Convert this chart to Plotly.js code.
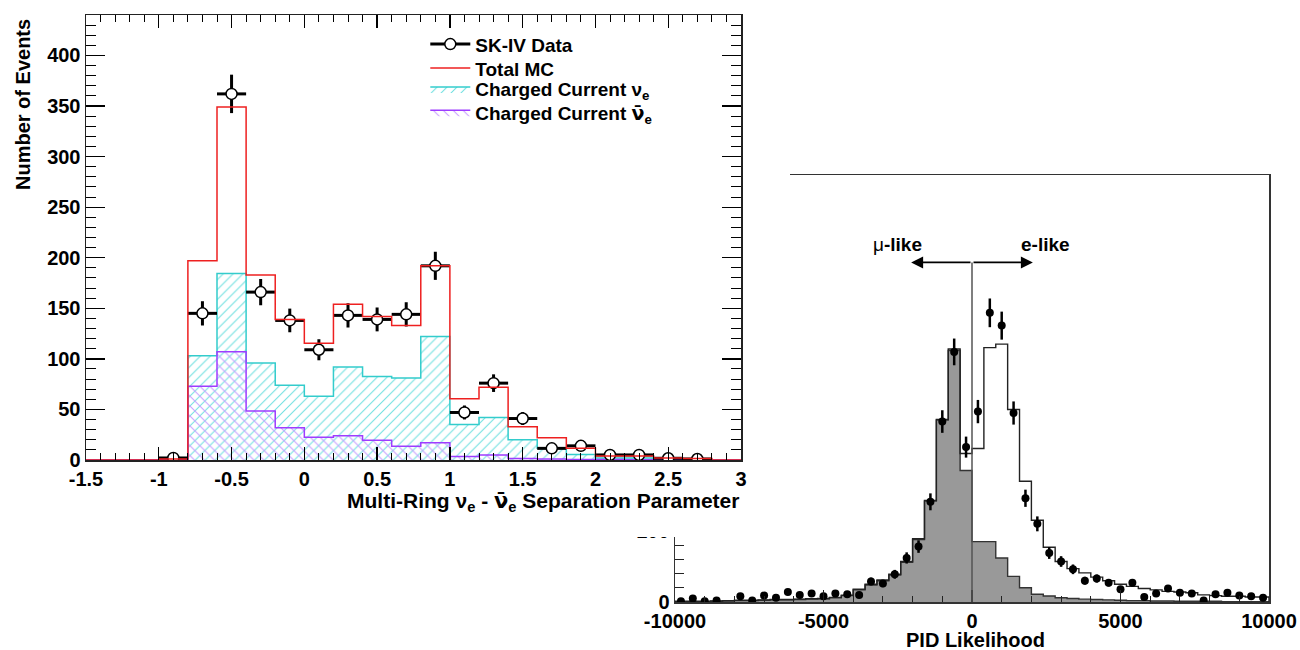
<!DOCTYPE html>
<html><head><meta charset="utf-8">
<script src="https://cdn.plot.ly/plotly-3.0.1.min.js"></script>
<style>
html,body{margin:0;padding:0;background:#fff;width:1300px;height:650px;overflow:hidden}
#pid{position:absolute;left:0;top:0;width:1300px;height:650px}
#sep{position:absolute;left:0;top:0;width:790px;height:537px;z-index:2;background:#fff}
</style></head><body>
<div id="pid"></div><div id="sep"></div>
<script>
// ---------------- Left chart data: Multi-Ring nu_e / nubar_e separation ----------------
const sepBinCenters = [-1.5,-1.3,-1.1,-0.9,-0.7,-0.5,-0.3,-0.1,0.1,0.3,0.5,0.7,0.9,1.1,1.3,1.5,1.7,1.9,2.1,2.3,2.5,2.7,2.9];
const sepTotalMC   = [0,0,0,1,197,349,183,139,115.5,154,142,133,192,60.5,72,33,22,11.5,4,4,2,1.5,0];
const sepCCNue     = [0,0,0,0.5,103,184.5,96,74,63,92,82.5,81,122,35,42,20,11.5,5.5,2,2,1,0.5,0];
const sepCCNuebar  = [0,0,0,0.2,73,107,48.5,32,22.5,24,19.5,13.5,17,3.5,5,1.5,1,0.5,0.5,0.3,0.2,0.1,0];
const sepDataX     = [-0.9,-0.7,-0.5,-0.3,-0.1,0.1,0.3,0.5,0.7,0.9,1.1,1.3,1.5,1.7,1.9,2.1,2.3,2.5,2.7];
const sepDataY     = [2,145,362,166,138,109,143,139,144,192,47,76,41,11.5,14,5,5,1.7,1];
const sepDataErr   = [1.4,12,19,13,11.7,10.4,12,11.8,12,13.9,6.9,8.7,6.4,3.4,3.7,2.2,2.2,1.3,1];
const sepTickVals  = [-1.5,-1,-0.5,0,0.5,1,1.5,2,2.5,3];
const sepTickText  = ['-1.5','-1','-0.5','0','0.5','1','1.5','2','2.5','3'];
const sepYTickVals = [0,50,100,150,200,250,300,350,400];
const sepYTickText = ['0','50','100','150','200','250','300','350','400'];

// ---------------- Right chart data: PID likelihood ----------------
const pidCenters = [-9800,-9400,-9000,-8600,-8200,-7800,-7400,-7000,-6600,-6200,-5800,-5400,-5000,-4600,-4200,-3800,-3400,-3000,-2600,-2200,-1800,-1400,-1000,-600,-200,
                    200,600,1000,1400,1800,2200,2600,3000,3400,3800,4200,4600,5000,5400,5800,6200,6600,7000,7400,7800,8200,8600,9000,9400,9800];
const pidMuMC    = [0.5,0.5,0.5,1,1.5,2,2,2.5,3,3,3.5,4,4.5,6,9,17,24,30,38,56,88,142,256,354,185,
                    85,85,62,36,20,11,8.5,6,5,4,3.5,3,2.5,2,2,1.5,1.5,1,1,1,1,0.5,0.5,0.5,0.5];
const pidTotalMC = [1,1,1,1.5,2,2.5,2.5,3,3.5,3.5,4,4.5,5,6.5,9.5,18,25,31,39,57,89,143,257,356,209,
                    216,358,363,271,170,115,77,57,47,41,35,30,25,22,19,17,15,14,13,10,9,8,8,7,7];
const pidData    = [1,5,1,2,null,8,2,9,6,14,10,12,8,12,11,10,29,26,39,62,78,141,254,352,218,
                    268,407,389,266,146,110,69,57,46,30,33,27,18,27,7,12,19,13,12,2,11,13,9,8,6];
const pidDataErr = [1,2.2,1,1.4,null,2.8,1.4,3,2.4,3.7,3.2,3.5,2.8,3.5,3.3,3.2,5.4,5.1,6.2,7.9,8.8,11.9,15.9,18.8,14.8,
                    16.4,20.2,19.7,16.3,12.1,10.5,8.3,7.5,6.8,5.5,5.7,5.2,4.2,5.2,2.6,3.5,4.4,3.6,3.5,1.4,3.3,3.6,3,2.8,2.4];
const pidTickVals = [-10000,-5000,0,5000,10000];
const pidTickText = ['-10000','-5000','0','5000','10000'];
const pidYTickVals = [0,100,200,300,400,500,600];
const pidYTickText = ['0','100','200','300','400','500','600'];

// ---------------- helpers ----------------
function stepXY(centers, vals){
  const w = centers[1]-centers[0], n = centers.length;
  const xs=[centers[0]-w/2], ys=[0];
  for(let i=0;i<n;i++){ xs.push(centers[i]-w/2); ys.push(vals[i]); }
  xs.push(centers[n-1]+w/2); ys.push(vals[n-1]);
  xs.push(centers[n-1]+w/2); ys.push(0);
  return {xs, ys};
}
const F = 'Liberation Sans, Arial, Helvetica, sans-serif';
const BF = (s)=>({family:F, size:s, weight:700, color:'#000'});
const NUBAR = '<span style="font-family:DejaVu Sans">ν\u0304</span>';

// ---------------- Right chart ----------------
const grayS = stepXY(pidCenters, pidMuMC);
const totS = stepXY(pidCenters, pidTotalMC);
const pidHalf = (pidCenters[1]-pidCenters[0])*0.35;
const pidTraces = [
  {x:grayS.xs, y:grayS.ys, type:'scatter', mode:'lines', line:{shape:'hv', color:'#333', width:1.4},
   fill:'tozeroy', fillcolor:'#999999', hoverinfo:'skip', showlegend:false},
  {x:totS.xs, y:totS.ys, type:'scatter', mode:'lines', line:{shape:'hv', color:'#222', width:1.4},
   hoverinfo:'skip', showlegend:false},
  {x:pidCenters, y:pidData, type:'scatter', mode:'markers', marker:{symbol:'circle', size:8, color:'#000'},
   error_y:{type:'data', array:pidDataErr, visible:true, color:'#000', thickness:2.5, width:0},
   error_x:{type:'constant', value:pidHalf*0.45, visible:true, color:'#000', thickness:2.5, width:0},
   showlegend:false}
];
const cutValue = 0, arrowLevel = 478, arrowReach = 2050;
const pidLayout = {
  width:1300, height:650, margin:{l:675, r:31, t:175, b:48},
  paper_bgcolor:'rgba(0,0,0,0)', plot_bgcolor:'rgba(0,0,0,0)', showlegend:false,
  xaxis:{range:[-10000,10000], tickmode:'array', tickvals:pidTickVals, ticktext:pidTickText,
    ticks:'inside', ticklen:12, tickwidth:1.3, tickcolor:'#222',
    minor:{dtick:1000, tick0:0, ticks:'inside', ticklen:6, tickcolor:'#222', tickwidth:1},
    showline:true, linecolor:'#333', linewidth:1.5, mirror:true, showgrid:false, zeroline:false,
    tickfont:BF(20)},
  yaxis:{range:[0,601], tickmode:'array', tickvals:pidYTickVals, ticktext:pidYTickText,
    ticks:'inside', ticklen:18, tickwidth:1.3, tickcolor:'#222',
    minor:{dtick:20, tick0:0, ticks:'inside', ticklen:9, tickcolor:'#222', tickwidth:1},
    showline:true, linecolor:'#333', linewidth:1.5, mirror:true, showgrid:false, zeroline:false,
    tickfont:BF(20)},
  shapes:[{type:'line', xref:'x', yref:'y', x0:cutValue, x1:cutValue, y0:0, y1:arrowLevel, line:{color:'#555', width:1.5}}],
  annotations:[
    {text:'PID Likelihood', xref:'paper', yref:'paper', x:0.506, y:-0.089, xanchor:'center', yanchor:'middle', showarrow:false, font:BF(20)},
    {text:'<span style="font-weight:normal">μ</span>-like', xref:'x', yref:'y', x:-2500, y:503, xanchor:'center', yanchor:'middle', showarrow:false, font:BF(19)},
    {text:'e-like', xref:'x', yref:'y', x:2460, y:503, xanchor:'center', yanchor:'middle', showarrow:false, font:BF(19)},
    {text:'', xref:'x', yref:'y', x:cutValue-arrowReach, y:arrowLevel, axref:'x', ayref:'y', ax:cutValue, ay:arrowLevel,
     showarrow:true, arrowhead:2, arrowsize:1.5, arrowwidth:1.6, arrowcolor:'#000', standoff:0, startstandoff:0},
    {text:'', xref:'x', yref:'y', x:cutValue+arrowReach, y:arrowLevel, axref:'x', ayref:'y', ax:cutValue, ay:arrowLevel,
     showarrow:true, arrowhead:2, arrowsize:1.5, arrowwidth:1.6, arrowcolor:'#000', standoff:0, startstandoff:0}
  ]
};
Plotly.newPlot('pid', pidTraces, pidLayout, {staticPlot:true, displayModeBar:false});

// ---------------- Left chart ----------------
const redS = stepXY(sepBinCenters, sepTotalMC);
const cyS = stepXY(sepBinCenters, sepCCNue);
const puS = stepXY(sepBinCenters, sepCCNuebar);
const sepHalf = (sepBinCenters[1]-sepBinCenters[0])/2;
const dX=[], dY=[], dE=[], dEx=[];
sepDataX.forEach((x,i)=>{
  if(i>0){ dX.push(null); dY.push(null); dE.push(null); dEx.push(null); }
  dX.push(x); dY.push(sepDataY[i]); dE.push(sepDataErr[i]); dEx.push(sepHalf);
});
const sepTraces = [
  {name:'Charged Current ν<sub>e</sub>', legend:'legend3', x:cyS.xs, y:cyS.ys, type:'scatter', mode:'lines',
   line:{shape:'hv', color:'#33cccc', width:1.5}, fill:'tozeroy', fillcolor:'rgba(0,0,0,0)',
   fillpattern:{shape:'/', fgcolor:'#6fe0e0', bgcolor:'rgba(0,0,0,0)', size:7, solidity:0.15}, hoverinfo:'skip'},
  {name:'Charged Current ' + NUBAR + '<sub>e</sub>', legend:'legend4', x:puS.xs, y:puS.ys, type:'scatter', mode:'lines',
   line:{shape:'hv', color:'#9d3dff', width:1.5}, fill:'tozeroy', fillcolor:'rgba(0,0,0,0)',
   fillpattern:{shape:'\\', fgcolor:'#c79cff', bgcolor:'rgba(0,0,0,0)', size:7, solidity:0.15}, hoverinfo:'skip'},
  {name:'SK-IV Data', legend:'legend', x:dX, y:dY, type:'scatter', mode:'lines+markers', connectgaps:false,
   line:{color:'#000', width:3},
   marker:{symbol:'circle', size:11, color:'#fff', line:{color:'#000', width:1.5}},
   error_y:{type:'data', array:dE, visible:true, color:'#000', thickness:3, width:0},
   error_x:{type:'data', array:dEx, visible:true, color:'#000', thickness:3, width:0}},
  {name:'Total MC', legend:'legend2', x:redS.xs, y:redS.ys, type:'scatter', mode:'lines',
   line:{shape:'hv', color:'#ee2020', width:1.5}, hoverinfo:'skip'}
];
function legendAt(yPaper){
  return {x:0.518, y:yPaper, xanchor:'left', yanchor:'top', bgcolor:'rgba(0,0,0,0)', borderwidth:0,
    font:BF(19), itemwidth:40, tracegroupgap:0};
}
const sepLayout = {
  width:790, height:537, margin:{l:86, r:49, t:15, b:77},
  paper_bgcolor:'#fff', plot_bgcolor:'#fff', showlegend:true,
  legend:legendAt(0.977), legend2:legendAt(0.923), legend3:legendAt(0.876), legend4:legendAt(0.824),
  xaxis:{range:[-1.5,3], tickmode:'array', tickvals:sepTickVals, ticktext:sepTickText,
    ticks:'inside', ticklen:13, tickwidth:1.3, tickcolor:'#000',
    minor:{dtick:0.1, tick0:-1.5, ticks:'inside', ticklen:7, tickcolor:'#000', tickwidth:1},
    showline:true, linecolor:'#222', linewidth:1.5, mirror:'ticks', showgrid:false, zeroline:false,
    tickfont:BF(20)},
  yaxis:{range:[0,440], tickmode:'array', tickvals:sepYTickVals, ticktext:sepYTickText,
    ticks:'inside', ticklen:19, tickwidth:1.3, tickcolor:'#000',
    minor:{dtick:10, tick0:0, ticks:'inside', ticklen:10, tickcolor:'#000', tickwidth:1},
    showline:true, linecolor:'#222', linewidth:1.5, mirror:'ticks', showgrid:false, zeroline:false,
    tickfont:BF(20)},
  annotations:[
    {text:'Number of Events', xref:'paper', yref:'paper', x:-0.096, y:0.798, textangle:-90,
     xanchor:'center', yanchor:'middle', showarrow:false, font:BF(20)},
    {text:'Multi-Ring ν<sub>e</sub> - ' + NUBAR + '<sub>e</sub> Separation Parameter', xref:'paper', yref:'paper',
     x:1.0, y:-0.095, xanchor:'right', yanchor:'middle', showarrow:false, font:BF(21)}
  ]
};
Plotly.newPlot('sep', sepTraces, sepLayout, {staticPlot:true, displayModeBar:false});
</script></body></html>
